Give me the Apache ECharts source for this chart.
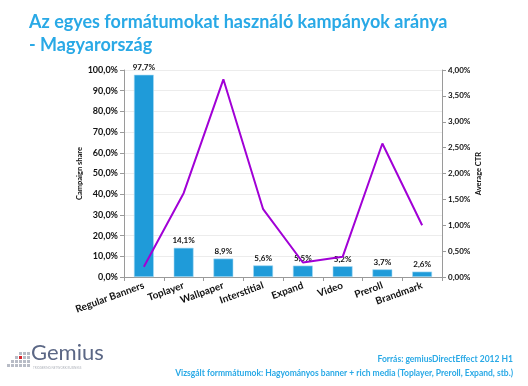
<!DOCTYPE html>
<html><head><meta charset="utf-8">
<script src="https://cdn.jsdelivr.net/npm/echarts@6/dist/echarts.min.js"></script>
<style>html,body{margin:0;padding:0;background:#fff}#c{width:528px;height:386px}</style>
</head><body><div id="c"></div>
<script>
const categories = ['Regular Banners','Toplayer','Wallpaper','Interstitial','Expand','Video','Preroll','Brandmark'];
const campaignShare = [97.7, 14.1, 8.9, 5.6, 5.5, 5.2, 3.7, 2.6];
const averageCTR = [0.20, 1.62, 3.82, 1.31, 0.28, 0.39, 2.58, 1.00];
const leftTicks = {min:0, max:100, interval:10};
const rightTicks = {min:0, max:4, interval:0.5};

const chart = echarts.init(document.getElementById('c'), null, {renderer:'canvas'});
const fmt1 = v => v.toFixed(1).replace('.', ',') + '%';
const fmt2 = v => v.toFixed(2).replace('.', ',') + '%';
const F = 'Lato, "Liberation Sans", sans-serif';

// Gemius logo squares
const logo = [];
const cols = [1,2,3,4,4,4];
for (let c = 0; c < 6; c++) {
  for (let r = 0; r < 5; r++) {
    if (r < 5 - cols[c]) continue;
    const red = (c === 3 && r === 2);
    logo.push({type:'rect', left: 7 + c*4, top: 348 + r*4, shape:{width:3,height:3},
      style:{fill: red ? '#d8262f' : '#b8bcc6'}});
  }
}

chart.setOption({
  animation:false,
  textStyle:{fontFamily:F},
  title:[{text:'Az egyes formátumokat használó kampányok aránya\n- Magyarország', left:24, top:6,
    textStyle:{color:'#29a9e6', fontSize:18, fontWeight:'bold', fontFamily:F, lineHeight:23}}],
  graphic: logo.concat([
    {type:'text', left:31, top:342, style:{text:'Gemius', fill:'#5b6785', font:'22px '+F}},
    {type:'text', left:33, top:367, style:{text:'TRIGGERING NETWORK BUSINESS', fill:'#b0b4bc', font:'3px '+F}},
    {type:'text', right:15, top:355, style:{text:'Forrás: gemiusDirectEffect 2012 H1', fill:'#29a9e6', font:'bold 8.5px '+F, textAlign:'right'}},
    {type:'text', right:15, top:369, style:{text:'Vizsgált formmátumok: Hagyományos banner + rich media (Toplayer, Preroll, Expand, stb.)', fill:'#29a9e6', font:'bold 8.5px '+F, textAlign:'right'}}
  ]),
  grid:{left:124, right:86, top:70, bottom:109, containLabel:false},
  xAxis:{type:'category', data:categories,
    axisLine:{lineStyle:{color:'#9a9a9a'}},
    axisTick:{show:true, lineStyle:{color:'#9a9a9a'}, length:4},
    axisLabel:{rotate:20, fontSize:10, fontWeight:'bold', color:'#111', margin:8, interval:0, fontFamily:F}},
  yAxis:[
    {type:'value', min:leftTicks.min, max:leftTicks.max, interval:leftTicks.interval,
     name:'Campaign share', nameLocation:'middle', nameGap:40, nameRotate:90, nameMoveOverlap:false,
     nameTextStyle:{fontSize:7.5, fontWeight:'bold', color:'#111', fontFamily:F},
     axisLine:{show:true, lineStyle:{color:'#9a9a9a'}}, axisTick:{show:true, length:4, lineStyle:{color:'#9a9a9a'}},
     axisLabel:{formatter:fmt1, fontSize:9, fontWeight:'bold', color:'#111', margin:6},
     splitLine:{lineStyle:{color:'#ececec'}}},
    {type:'value', min:rightTicks.min, max:rightTicks.max, interval:rightTicks.interval, position:'right',
     name:'Average CTR', nameLocation:'middle', nameGap:33, nameRotate:90, nameMoveOverlap:false,
     nameTextStyle:{fontSize:7.5, fontWeight:'bold', color:'#111', fontFamily:F},
     axisLine:{show:true, lineStyle:{color:'#9a9a9a'}}, axisTick:{show:true, length:4, inside:false, lineStyle:{color:'#9a9a9a'}},
     axisLabel:{formatter:fmt2, fontSize:8, fontWeight:'bold', color:'#111', margin:6},
     splitLine:{show:false}}
  ],
  series:[
    {type:'bar', data:campaignShare, yAxisIndex:0, barWidth:'50%',
     itemStyle:{color:'#1f9bd9', borderColor:'#a9dcf5', borderWidth:0.6},
     label:{show:true, position:'top', formatter:p=>fmt1(p.value), fontSize:8, fontWeight:'bold', color:'#111', distance:3}},
    {type:'line', data:averageCTR, yAxisIndex:1, symbol:'none',
     lineStyle:{color:'#a100d6', width:2}, z:5}
  ]
});
</script></body></html>
